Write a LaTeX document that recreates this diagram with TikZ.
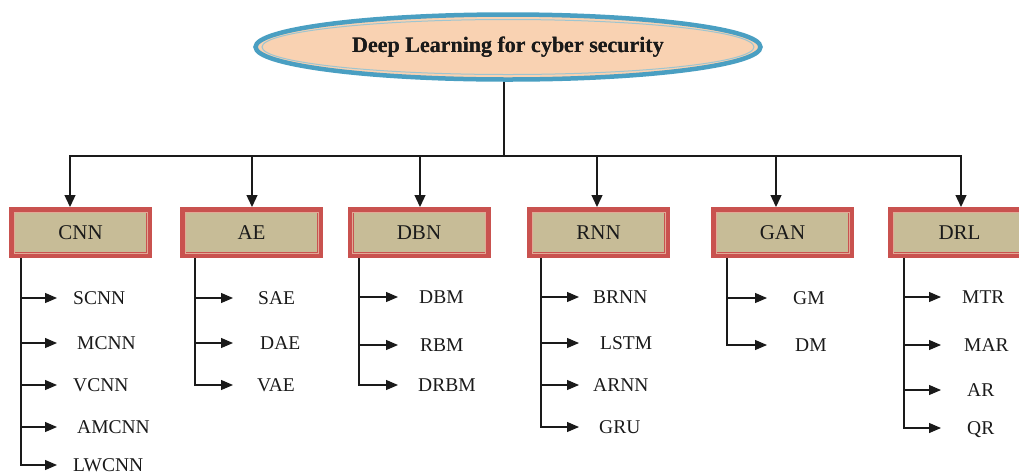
\documentclass[tikz,border=0pt]{standalone}
\usepackage{fontspec}
\setmainfont{Liberation Serif}
\usetikzlibrary{shapes.geometric,arrows.meta}
\definecolor{teal1}{HTML}{4A9FC2}
\definecolor{teal2}{HTML}{9EC5D0}
\definecolor{peach}{HTML}{F9D2B2}
\definecolor{boxred}{HTML}{C9524F}
\definecolor{khaki}{HTML}{C7BC97}
\definecolor{boxline}{HTML}{E2A996}
\definecolor{ink}{HTML}{1A1A1A}
\tikzset{
  rootnode/.style={ellipse, draw=teal1, line width=4.5pt, fill=peach, minimum width=505pt, minimum height=65pt, inner sep=0pt, font=\fontsize{22}{24}\selectfont\bfseries, text=ink},
  catbox/.style={rectangle, draw=boxred, line width=6pt, fill=khaki, minimum width=137pt, minimum height=45pt, inner sep=0pt, font=\fontsize{21}{23}\selectfont, text=ink},
  leaf/.style={anchor=west, inner ysep=0pt, text height=13pt, text depth=0pt, font=\fontsize{19.5}{21}\selectfont, text=ink},
  ln/.style={draw=ink, line width=1.3pt},
  arr/.style={ln, -{Triangle[length=12pt,width=11pt]}},
  sarr/.style={draw=ink, line width=1.2pt, -{Triangle[length=12pt,width=10pt]}}
}
\newcommand{\innerbox}[1]{\draw[boxline, line width=1pt] ([shift={(5,5)}]#1.north west) rectangle ([shift={(-5,-5)}]#1.south east);}
\begin{document}
\begin{tikzpicture}[x=1pt,y=-1pt]
\path[use as bounding box] (0,0) rectangle (1019,475);
\clip (0,0) rectangle (1019,475);
% root
\node[rootnode] (root) at (508,47) {Deep Learning for cyber security};
\draw[teal2, line width=1pt] (508,47) ellipse (246 and 27.5);
\node[rootnode, draw=none, fill=none] at (508,47) {Deep Learning for cyber security};
\coordinate (bar) at (504,156);
\draw[ln] ([xshift=-4pt]root.south) -- (bar);
% categories
\node[catbox] (cnn) at (80.5,232.5) {CNN};
\node[catbox] (ae)  at (251.5,232.5) {AE};
\node[catbox] (dbn) at (419,232.5) {DBN};
\node[catbox] (rnn) at (598.5,232.5) {RNN};
\node[catbox] (gan) at (782.5,232.5) {GAN};
\node[catbox] (drl) at (959.5,232.5) {DRL};
\foreach \b in {cnn,ae,dbn,rnn,gan,drl}{\innerbox{\b}}
\draw[arr] (bar) -| ([xshift=-10.5pt]cnn.north);
\draw[arr] (bar) -| ([xshift=0.5pt]ae.north);
\draw[arr] (bar) -| ([xshift=1pt]dbn.north);
\draw[arr] (bar) -| ([xshift=-1.5pt]rnn.north);
\draw[arr] (bar) -| ([xshift=-6.5pt]gan.north);
\draw[arr] (bar) -| ([xshift=1.5pt]drl.north);
% CNN leaves
\node[leaf, inner xsep=16pt] (scnn)  at (57,298) {SCNN};
\node[leaf, inner xsep=20pt] (mcnn)  at (57,343) {MCNN};
\node[leaf, inner xsep=16pt] (vcnn)  at (57,385) {VCNN};
\node[leaf, inner xsep=20pt] (amcnn) at (57,427) {AMCNN};
\node[leaf, inner xsep=16pt] (lwcnn) at (57,465) {LWCNN};
\coordinate (cnnT) at (21,258);
\draw[sarr] (cnnT) |- (lwcnn.west);
\foreach \c in {scnn,mcnn,vcnn,amcnn}{\draw[sarr] (cnnT |- \c.west) -- (\c.west);}
% AE leaves
\node[leaf, inner xsep=25pt] (sae) at (233,298) {SAE};
\node[leaf, inner xsep=27pt] (dae) at (233,343) {DAE};
\node[leaf, inner xsep=24pt] (vae) at (233,385) {VAE};
\coordinate (aeT) at (195,258);
\draw[sarr] (aeT) |- (vae.west);
\foreach \c in {sae,dae}{\draw[sarr] (aeT |- \c.west) -- (\c.west);}
% DBN leaves
\node[leaf, inner xsep=21pt] (dbm)  at (398,297) {DBM};
\node[leaf, inner xsep=22pt] (rbm)  at (398,345) {RBM};
\node[leaf, inner xsep=20pt] (drbm) at (398,385) {DRBM};
\coordinate (dbnT) at (359,258);
\draw[sarr] (dbnT) |- (drbm.west);
\foreach \c in {dbm,rbm}{\draw[sarr] (dbnT |- \c.west) -- (\c.west);}
% RNN leaves
\node[leaf, inner xsep=14pt] (brnn) at (579,297) {BRNN};
\node[leaf, inner xsep=21pt] (lstm) at (579,343) {LSTM};
\node[leaf, inner xsep=14pt] (arnn) at (579,385) {ARNN};
\node[leaf, inner xsep=20pt] (gru)  at (579,427) {GRU};
\coordinate (rnnT) at (541,258);
\draw[sarr] (rnnT) |- (gru.west);
\foreach \c in {brnn,lstm,arnn}{\draw[sarr] (rnnT |- \c.west) -- (\c.west);}
% GAN leaves
\node[leaf, inner xsep=26pt] (gm) at (767,298) {GM};
\node[leaf, inner xsep=28pt] (dm) at (767,345) {DM};
\coordinate (ganT) at (727,258);
\draw[sarr] (ganT) |- (dm.west);
\draw[sarr] (ganT |- gm.west) -- (gm.west);
% DRL leaves
\node[leaf, inner xsep=21pt] (mtr) at (941,297) {MTR};
\node[leaf, inner xsep=23pt] (mar) at (941,345) {MAR};
\node[leaf, inner xsep=26pt] (ar)  at (941,390) {AR};
\node[leaf, inner xsep=26pt] (qr)  at (941,428) {QR};
\coordinate (drlT) at (904,258);
\draw[sarr] (drlT) |- (qr.west);
\foreach \c in {mtr,mar,ar}{\draw[sarr] (drlT |- \c.west) -- (\c.west);}
\end{tikzpicture}
\end{document}
